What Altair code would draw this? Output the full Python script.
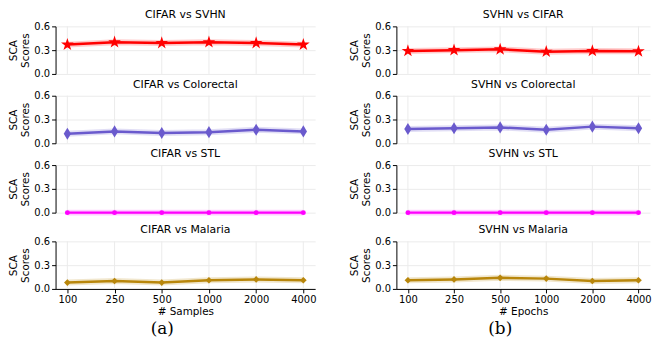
import altair as alt
import pandas as pd

x_labels = ["100", "250", "500", "1000", "2000", "4000"]

cifar_titles = ["CIFAR vs SVHN", "CIFAR vs Colorectal", "CIFAR vs STL", "CIFAR vs Malaria"]
svhn_titles = ["SVHN vs CIFAR", "SVHN vs Colorectal", "SVHN vs STL", "SVHN vs Malaria"]

cifar_svhn = [0.37, 0.40, 0.39, 0.40, 0.39, 0.37]
cifar_colorectal = [0.12, 0.15, 0.13, 0.14, 0.17, 0.15]
cifar_stl = [0.0, 0.0, 0.0, 0.0, 0.0, 0.0]
cifar_malaria = [0.08, 0.10, 0.08, 0.11, 0.12, 0.11]

svhn_cifar = [0.29, 0.30, 0.31, 0.28, 0.29, 0.285]
svhn_colorectal = [0.18, 0.19, 0.20, 0.17, 0.21, 0.19]
svhn_stl = [0.0, 0.0, 0.0, 0.0, 0.0, 0.0]
svhn_malaria = [0.11, 0.12, 0.14, 0.13, 0.10, 0.11]

captions = ["(a)", "(b)"]
x_titles = ["# Samples", "# Epochs"]

STAR = ("M0,-1L0.225,-0.309L0.951,-0.309L0.363,0.118L0.588,0.809L0,0.382"
        "L-0.588,0.809L-0.363,0.118L-0.951,-0.309L-0.225,-0.309Z")
THIN_DIAMOND = "M0,-1L0.6,0L0,1L-0.6,0Z"

colors = ["#ff0000", "#6a5acd", "#ff00ff", "#b8860b"]
shapes = [STAR, THIN_DIAMOND, "circle", "diamond"]
sizes = [180, 150, 25, 45]

FONT = "DejaVu Sans"
H = 48


def panel(title, values, idx, xtitle, width):
    bottom = idx == 3
    df = pd.DataFrame({"x": x_labels, "y": values})
    if bottom:
        xaxis = alt.Axis(labelAngle=0, labelFontSize=10, labelColor="black",
                         title=xtitle, titleFontSize=10.5, titleFontWeight=400,
                         titleColor="black", titlePadding=2,
                         domainColor="black", tickColor="black", tickSize=4,
                         labelPadding=2, grid=False)
    else:
        xaxis = None
    yaxis = alt.Axis(values=[0, 0.3, 0.6], format=".1f", title=["SCA", "Scores"],
                     titleFontSize=10.5, titleFontWeight=400, titleColor="black",
                     labelFontSize=10, labelColor="black", tickColor="black",
                     domainColor="black", tickSize=4, labelPadding=2, titlePadding=3,
                     grid=True)
    xenc = alt.X("x:O", sort=None, scale=alt.Scale(type="point", padding=0.25), axis=xaxis)
    base = alt.Chart(df).encode(
        x=xenc,
        y=alt.Y("y:Q", scale=alt.Scale(domain=[0, 0.6]), axis=yaxis),
    )
    grid = alt.Chart(df).mark_rule(color="#ebebeb", strokeWidth=1).encode(
        x=xenc, y=alt.value(0), y2=alt.value(H)
    )
    band = base.mark_line(color=colors[idx], strokeWidth=6, opacity=0.2)
    line = base.mark_line(color=colors[idx], strokeWidth=2.5)
    pts = base.mark_point(shape=shapes[idx], size=sizes[idx], filled=True,
                          color=colors[idx], opacity=1)
    return alt.layer(grid, band, line, pts).properties(
        width=width, height=H,
        title=alt.TitleParams(title, fontSize=11, fontWeight=400, offset=1,
                              color="black", font=FONT),
    )


def column(titles, series, xtitle, caption, width):
    panels = [panel(titles[i], series[i], i, xtitle, width) for i in range(4)]
    return alt.vconcat(*panels, spacing=0,
                       title=alt.TitleParams(caption, orient="bottom", anchor="middle",
                                             font="DejaVu Serif", fontSize=17,
                                             fontWeight=400, color="black", offset=4))


left = column(cifar_titles, [cifar_svhn, cifar_colorectal, cifar_stl, cifar_malaria],
              x_titles[0], captions[0], 262)
right = column(svhn_titles, [svhn_cifar, svhn_colorectal, svhn_stl, svhn_malaria],
               x_titles[1], captions[1], 256)

chart = alt.hconcat(left, right, spacing=33).properties(
    padding={"left": 0, "top": 0, "right": 0, "bottom": 0}
).configure_view(stroke=None).configure_axis(
    gridColor="#ebebeb", labelFont=FONT, titleFont=FONT
).configure_title(fontWeight=400)

chart.save("out.html", embed_options={"renderer": "svg", "actions": False})
